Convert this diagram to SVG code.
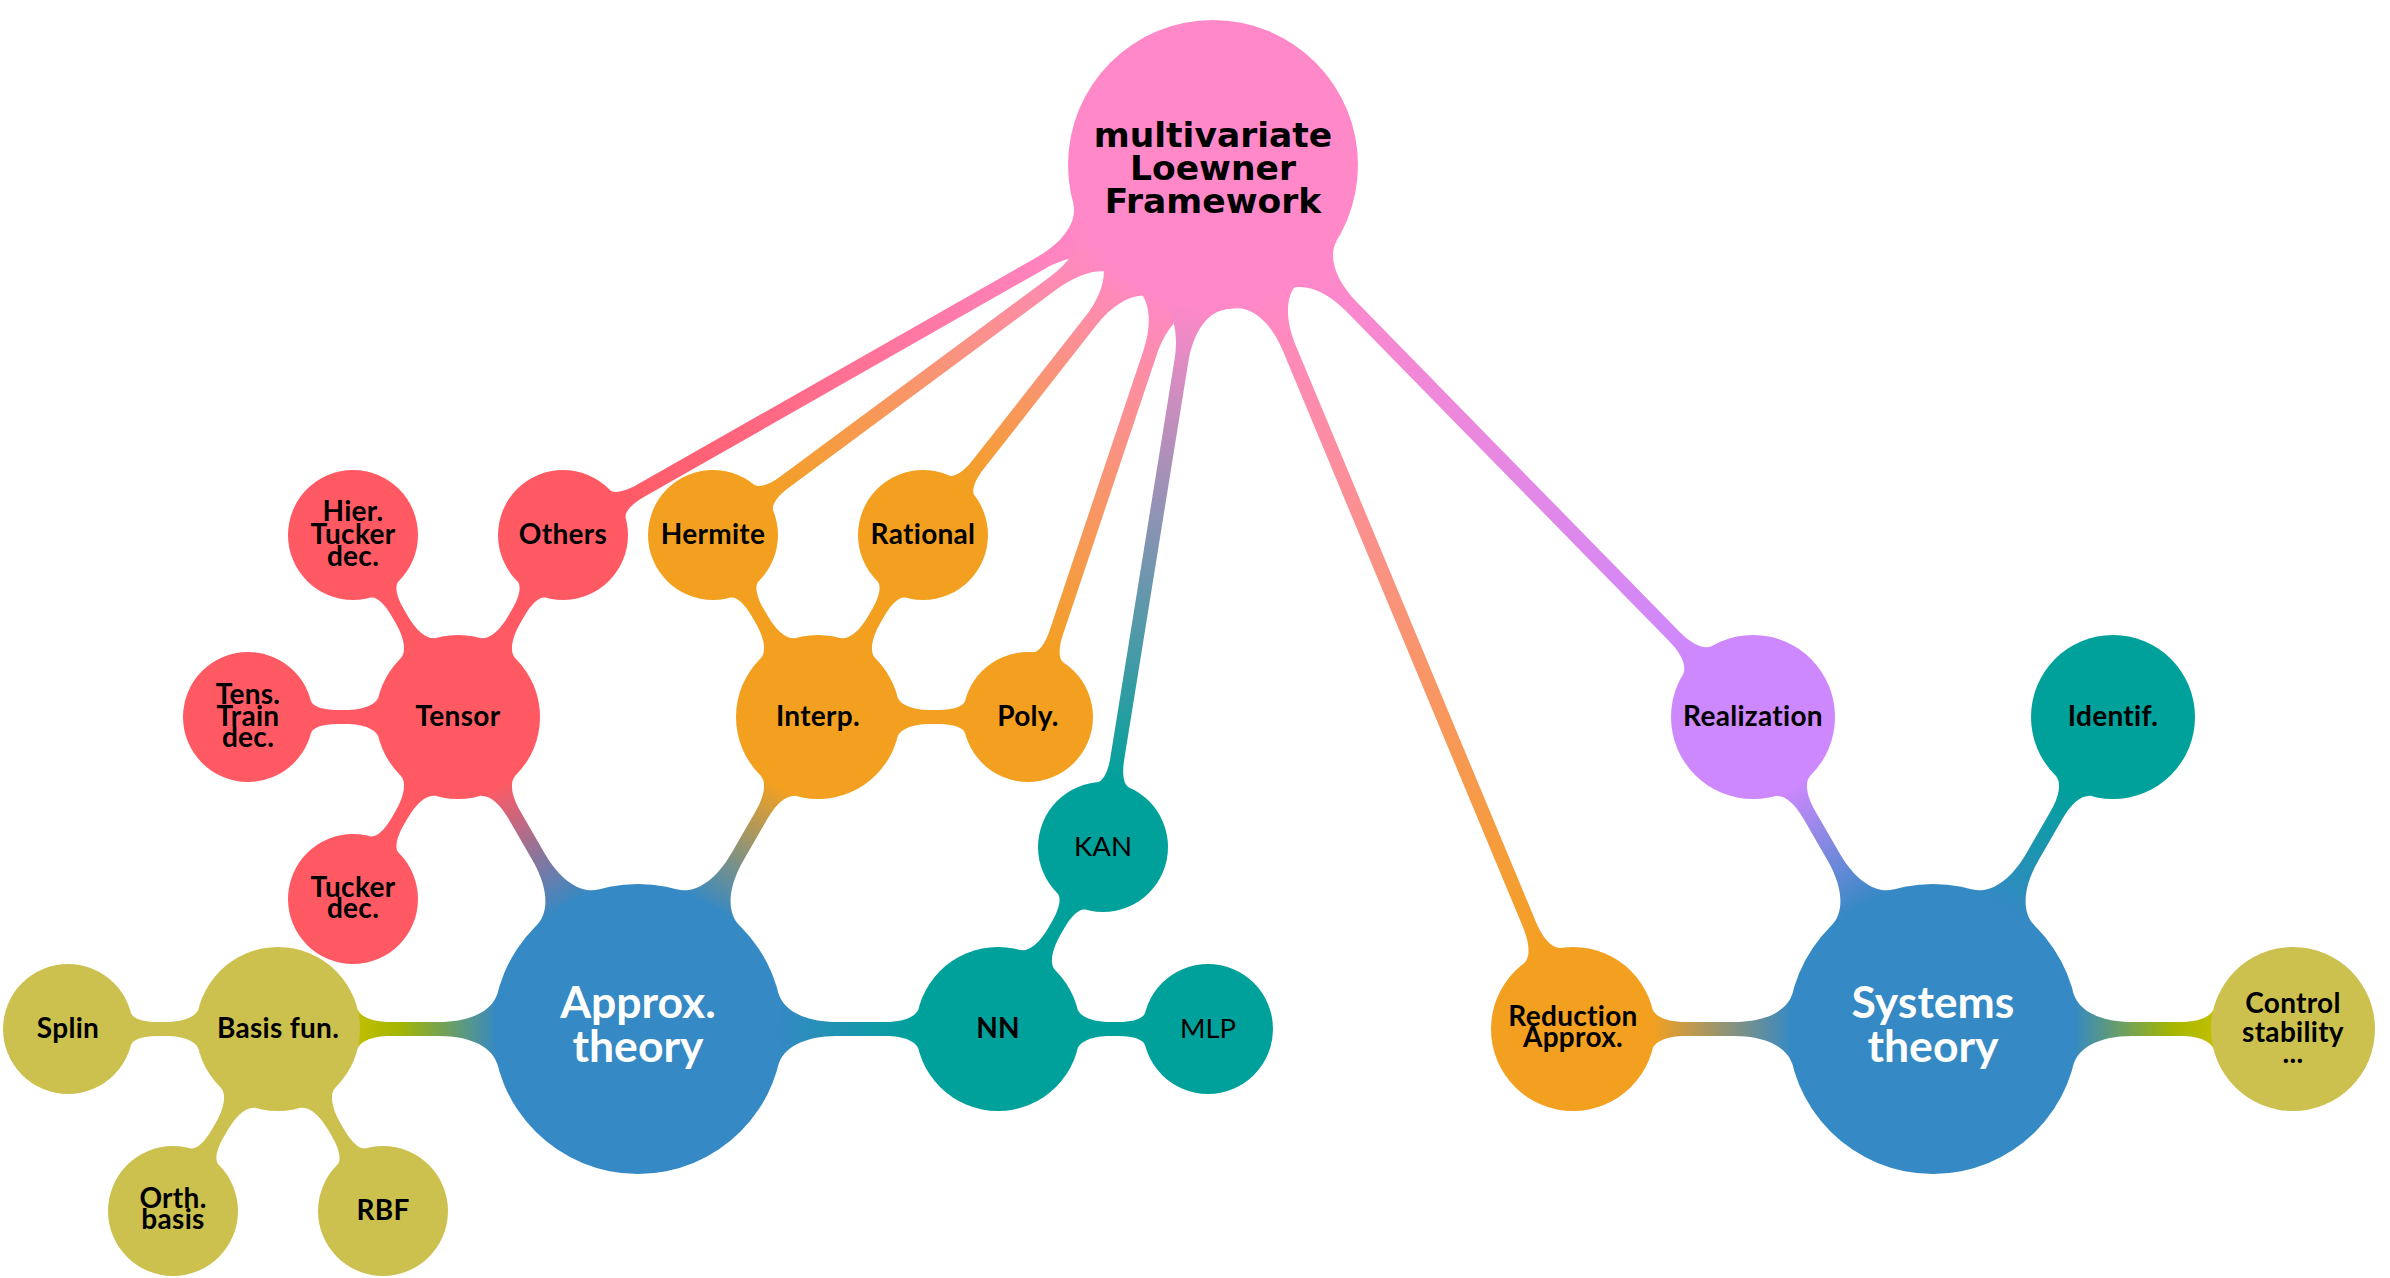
<svg xmlns="http://www.w3.org/2000/svg" xmlns:xlink="http://www.w3.org/1999/xlink" width="2390" height="1278" viewBox="0 0 2390 1278">
<style>
  text { font-family: Lato, "Liberation Sans", sans-serif; font-weight: 700; font-size: 28px; letter-spacing: 0.3px; text-anchor: middle; fill: #000; }
  .reg { font-weight: 400; font-size: 27.5px; letter-spacing: 0; }
  .l1 { font-size: 44.5px; fill: #fff; letter-spacing: 0; }
  .root { font-family: "DejaVu Sans", sans-serif; font-size: 34.5px; letter-spacing: 0; }
  .pink { fill: #FF88C8; } .red { fill: #FF5A64; } .orange { fill: #F3A020; } .teal { fill: #00A19A; }
  .blue { fill: #3589C4; } .olive { fill: #CCC14F; } .purple { fill: #CD88FD; }
</style>
<defs>
  <linearGradient id="gPRed" x1="0" y1="0" x2="1" y2="0"><stop offset="0" stop-color="#FF88C8"/><stop offset="1" stop-color="#FF5A64"/></linearGradient>
  <linearGradient id="gPO" x1="0" y1="0" x2="1" y2="0"><stop offset="0" stop-color="#FF88C8"/><stop offset="1" stop-color="#F3A020"/></linearGradient>
  <linearGradient id="gPT" x1="0" y1="0" x2="1" y2="0"><stop offset="0" stop-color="#FF88C8"/><stop offset="1" stop-color="#00A19A"/></linearGradient>
  <linearGradient id="gPPu" x1="0" y1="0" x2="1" y2="0"><stop offset="0" stop-color="#FF88C8"/><stop offset="1" stop-color="#CD88FD"/></linearGradient>
  <linearGradient id="gBR" x1="0" y1="0" x2="1" y2="0"><stop offset="0" stop-color="#3589C4"/><stop offset="1" stop-color="#FF5A64"/></linearGradient>
  <linearGradient id="gBO" x1="0" y1="0" x2="1" y2="0"><stop offset="0" stop-color="#3589C4"/><stop offset="1" stop-color="#F3A020"/></linearGradient>
  <linearGradient id="gBOl" x1="0" y1="0" x2="1" y2="0"><stop offset="0" stop-color="#3589C4"/><stop offset="0.7" stop-color="#A4B600"/><stop offset="1" stop-color="#C0BF00"/></linearGradient>
  <linearGradient id="gBT" x1="0" y1="0" x2="1" y2="0"><stop offset="0" stop-color="#3589C4"/><stop offset="1" stop-color="#00A19A"/></linearGradient>
  <linearGradient id="gBPu" x1="0" y1="0" x2="1" y2="0"><stop offset="0" stop-color="#3589C4"/><stop offset="1" stop-color="#CD88FD"/></linearGradient>
  <path id="bar12" d="M140.4,-36.25 C144.9,-18.75 166.6,-7 198.7,-7 L247.7,-7 C265.8,-7 278.5,-12.4 280.6,-20.5 L280.6,20.5 C278.5,12.4 265.8,7 247.7,7 L198.7,7 C166.6,7 144.9,18.75 140.4,36.25 Z"/>
  <path id="bar23" d="M79.4,-20.5 C81.5,-12.4 94.2,-7 112.3,-7 L121,-7 C135.4,-7 145.7,-10.7 147.1,-16.25 L147.1,16.25 C145.7,10.7 135.4,7 121,7 L112.3,7 C94.2,7 81.5,12.4 79.4,20.5 Z"/>
</defs>

<g id="connectors">
  <!-- root connectors -->
  <g transform="translate(1213,165)">
    <path fill="url(#gPRed)" transform="rotate(150.35)" d="M140.4,-36.25 C144.9,-18.75 166.6,-7 198.7,-7 L658.9,-7 C673.3,-7 683.6,-10.7 685,-16.25 L685,16.25 C683.6,10.7 673.3,7 658.9,7 L198.7,7 C166.6,7 144.9,18.75 140.4,36.25 Z"/>
    <path fill="url(#gPO)" transform="rotate(143.5)" d="M140.4,-36.25 C144.9,-18.75 166.6,-7 198.7,-7 L533,-7 C547.4,-7 557.7,-10.7 559.1,-16.25 L559.1,16.25 C557.7,10.7 547.4,7 533,7 L198.7,7 C166.6,7 144.9,18.75 140.4,36.25 Z"/>
    <path fill="url(#gPO)" transform="rotate(128.09)" d="M140.4,-36.25 C144.9,-18.75 166.6,-7 198.7,-7 L381.1,-7 C395.5,-7 405.8,-10.7 407.2,-16.25 L407.2,16.25 C405.8,10.7 395.5,7 381.1,7 L198.7,7 C166.6,7 144.9,18.75 140.4,36.25 Z"/>
    <path fill="url(#gPO)" transform="rotate(108.53)" d="M140.4,-36.25 C144.9,-18.75 166.6,-7 198.7,-7 L493.2,-7 C507.6,-7 517.9,-10.7 519.3,-16.25 L519.3,16.25 C517.9,10.7 507.6,7 493.2,7 L198.7,7 C166.6,7 144.9,18.75 140.4,36.25 Z"/>
    <path fill="url(#gPT)" transform="rotate(99.16)" d="M140.4,-36.25 C144.9,-18.75 166.6,-7 198.7,-7 L601.8,-7 C616.2,-7 626.5,-10.7 627.9,-16.25 L627.9,16.25 C626.5,10.7 616.2,7 601.8,7 L198.7,7 C166.6,7 144.9,18.75 140.4,36.25 Z"/>
    <path fill="url(#gPO)" transform="rotate(67.38)" d="M140.4,-36.25 C144.9,-18.75 166.6,-7 198.7,-7 L823.7,-7 C841.8,-7 854.5,-12.4 856.6,-20.5 L856.6,20.5 C854.5,12.4 841.8,7 823.7,7 L198.7,7 C166.6,7 144.9,18.75 140.4,36.25 Z"/>
    <path fill="url(#gPPu)" transform="rotate(45.63)" d="M140.4,-36.25 C144.9,-18.75 166.6,-7 198.7,-7 L659.9,-7 C678,-7 690.7,-12.4 692.8,-20.5 L692.8,20.5 C690.7,12.4 678,7 659.9,7 L198.7,7 C166.6,7 144.9,18.75 140.4,36.25 Z"/>
  </g>
  <!-- Approx. theory connectors -->
  <use xlink:href="#bar12" href="#bar12" fill="url(#gBR)" transform="translate(638,1029) rotate(-120)"/>
  <use xlink:href="#bar12" href="#bar12" fill="url(#gBO)" transform="translate(638,1029) rotate(-60)"/>
  <use xlink:href="#bar12" href="#bar12" fill="url(#gBOl)" transform="translate(638,1029) rotate(180)"/>
  <use xlink:href="#bar12" href="#bar12" fill="url(#gBT)" transform="translate(638,1029)"/>
  <!-- Systems theory connectors -->
  <use xlink:href="#bar12" href="#bar12" fill="url(#gBPu)" transform="translate(1933,1029) rotate(-120)"/>
  <use xlink:href="#bar12" href="#bar12" fill="url(#gBT)" transform="translate(1933,1029) rotate(-60)"/>
  <use xlink:href="#bar12" href="#bar12" fill="url(#gBO)" transform="translate(1933,1029) rotate(180)"/>
  <use xlink:href="#bar12" href="#bar12" fill="url(#gBOl)" transform="translate(1933,1029)"/>
  <!-- Tensor children -->
  <use xlink:href="#bar23" href="#bar23" class="red" transform="translate(458,717) rotate(-120)"/>
  <use xlink:href="#bar23" href="#bar23" class="red" transform="translate(458,717) rotate(-60)"/>
  <use xlink:href="#bar23" href="#bar23" class="red" transform="translate(458,717) rotate(180)"/>
  <use xlink:href="#bar23" href="#bar23" class="red" transform="translate(458,717) rotate(120)"/>
  <!-- Interp children -->
  <use xlink:href="#bar23" href="#bar23" class="orange" transform="translate(818,717) rotate(-120)"/>
  <use xlink:href="#bar23" href="#bar23" class="orange" transform="translate(818,717) rotate(-60)"/>
  <use xlink:href="#bar23" href="#bar23" class="orange" transform="translate(818,717)"/>
  <!-- NN children -->
  <use xlink:href="#bar23" href="#bar23" class="teal" transform="translate(998,1029) rotate(-60)"/>
  <use xlink:href="#bar23" href="#bar23" class="teal" transform="translate(998,1029)"/>
  <!-- Basis fun. children -->
  <use xlink:href="#bar23" href="#bar23" class="olive" transform="translate(278,1029) rotate(180)"/>
  <use xlink:href="#bar23" href="#bar23" class="olive" transform="translate(278,1029) rotate(120)"/>
  <use xlink:href="#bar23" href="#bar23" class="olive" transform="translate(278,1029) rotate(60)"/>
</g>

<g id="node-root">
  <circle class="pink" cx="1213" cy="165" r="145"/>
  <text class="root" x="1213" y="147">multivariate</text>
  <text class="root" x="1213" y="180">Loewner</text>
  <text class="root" x="1213" y="213">Framework</text>
</g>

<g id="node-approx">
  <circle class="blue" cx="638" cy="1029" r="145"/>
  <text class="l1" x="638" y="1018">Approx.</text>
  <text class="l1" x="638" y="1062">theory</text>
</g>
<g id="node-systems">
  <circle class="blue" cx="1933" cy="1029" r="145"/>
  <text class="l1" x="1933" y="1018">Systems</text>
  <text class="l1" x="1933" y="1062">theory</text>
</g>

<g id="node-tensor">
  <circle class="red" cx="458" cy="717" r="82"/>
  <text x="458" y="726">Tensor</text>
</g>
<g id="node-hier">
  <circle class="red" cx="353" cy="535" r="65"/>
  <text x="353" y="521">Hier.</text>
  <text x="353" y="544">Tucker</text>
  <text x="353" y="566">dec.</text>
</g>
<g id="node-others">
  <circle class="red" cx="563" cy="535" r="65"/>
  <text x="563" y="544">Others</text>
</g>
<g id="node-train">
  <circle class="red" cx="248" cy="717" r="65"/>
  <text x="248" y="704">Tens.</text>
  <text x="248" y="726">Train</text>
  <text x="248" y="747">dec.</text>
</g>
<g id="node-tucker">
  <circle class="red" cx="353" cy="899" r="65"/>
  <text x="353" y="897">Tucker</text>
  <text x="353" y="918">dec.</text>
</g>

<g id="node-interp">
  <circle class="orange" cx="818" cy="717" r="82"/>
  <text x="818" y="726">Interp.</text>
</g>
<g id="node-hermite">
  <circle class="orange" cx="713" cy="535" r="65"/>
  <text x="713" y="544">Hermite</text>
</g>
<g id="node-rational">
  <circle class="orange" cx="923" cy="535" r="65"/>
  <text x="923" y="544">Rational</text>
</g>
<g id="node-poly">
  <circle class="orange" cx="1028" cy="717" r="65"/>
  <text x="1028" y="726">Poly.</text>
</g>

<g id="node-nn">
  <circle class="teal" cx="998" cy="1029" r="82"/>
  <text x="998" y="1038">NN</text>
</g>
<g id="node-kan">
  <circle class="teal" cx="1103" cy="847" r="65"/>
  <text class="reg" x="1103" y="856">KAN</text>
</g>
<g id="node-mlp">
  <circle class="teal" cx="1208" cy="1029" r="65"/>
  <text class="reg" x="1208" y="1038">MLP</text>
</g>

<g id="node-basis">
  <circle class="olive" cx="278" cy="1029" r="82"/>
  <text x="278" y="1038">Basis fun.</text>
</g>
<g id="node-splin">
  <circle class="olive" cx="68" cy="1029" r="65"/>
  <text x="68" y="1038">Splin</text>
</g>
<g id="node-orth">
  <circle class="olive" cx="173" cy="1211" r="65"/>
  <text x="173" y="1208">Orth.</text>
  <text x="173" y="1229">basis</text>
</g>
<g id="node-rbf">
  <circle class="olive" cx="383" cy="1211" r="65"/>
  <text x="383" y="1220">RBF</text>
</g>

<g id="node-realization">
  <circle class="purple" cx="1753" cy="717" r="82"/>
  <text x="1753" y="726">Realization</text>
</g>
<g id="node-identif">
  <circle class="teal" cx="2113" cy="717" r="82"/>
  <text x="2113" y="726">Identif.</text>
</g>
<g id="node-reduction">
  <circle class="orange" cx="1573" cy="1029" r="82"/>
  <text x="1573" y="1026">Reduction</text>
  <text x="1573" y="1047">Approx.</text>
</g>
<g id="node-control">
  <circle class="olive" cx="2293" cy="1029" r="82"/>
  <text x="2293" y="1013">Control</text>
  <text x="2293" y="1042">stability</text>
  <text x="2293" y="1063">...</text>
</g>
</svg>
